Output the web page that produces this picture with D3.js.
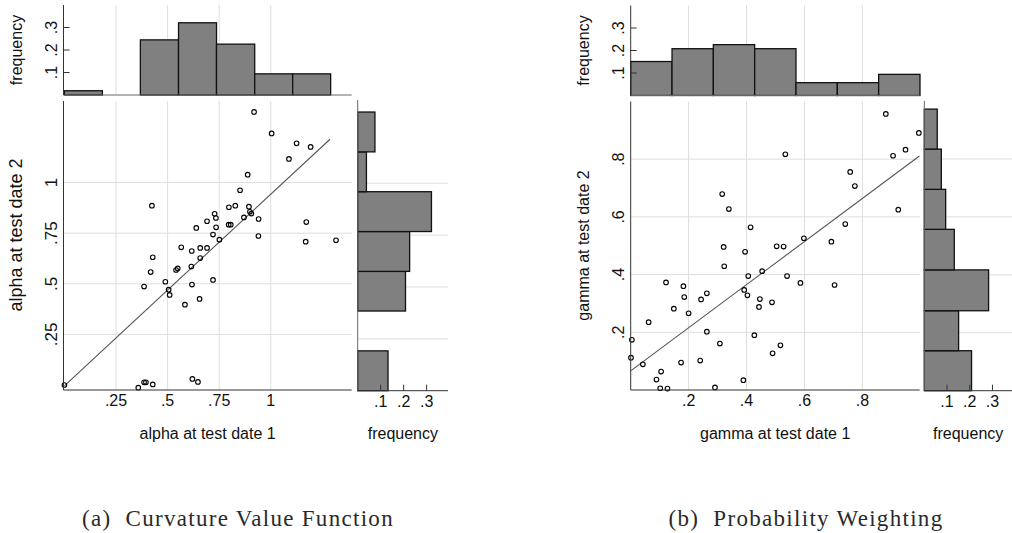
<!DOCTYPE html>
<html><head><meta charset="utf-8">
<script src="https://cdn.jsdelivr.net/npm/d3@7"></script>
<style>
body{margin:0;background:#fff}
svg{display:block}
text{font-family:"Liberation Sans",Arial,sans-serif;fill:#111}
</style>
</head><body><svg id="c" width="1012" height="533"></svg>
<script>
// ---------- data ----------
const alphaDate1 = [0,0.358,0.386,0.395,0.428,0.620,0.647,0.919,1.004,1.125,1.193,1.088,0.888,0.851,0.424,0.797,0.828,0.894,0.899,0.906,0.728,0.734,0.691,0.870,0.941,0.796,0.806,0.735,0.639,0.720,0.940,0.751,1.172,1.169,1.316,0.566,0.658,0.691,0.617,0.428,0.658,0.615,0.418,0.541,0.549,0.489,0.720,0.386,0.618,0.505,0.510,0.655,0.584];
const alphaDate2 = [0,-0.013,0.013,0.013,0.003,0.030,0.015,1.349,1.243,1.194,1.176,1.117,1.039,0.962,0.886,0.878,0.886,0.881,0.856,0.847,0.846,0.825,0.809,0.828,0.820,0.792,0.792,0.779,0.776,0.743,0.736,0.718,0.805,0.708,0.715,0.680,0.677,0.677,0.662,0.631,0.627,0.585,0.558,0.568,0.576,0.510,0.519,0.486,0.496,0.471,0.445,0.425,0.397];
const gammaDate1 = [0.881,0.995,0.949,0.906,0.534,0.758,0.774,0.924,0.316,0.339,0.414,0.741,0.598,0.693,0.504,0.528,0.321,0.395,0.323,0.454,0.406,0.540,0.586,0.704,0.122,0.182,0.185,0.263,0.243,0.392,0.403,0.446,0.443,0.488,0.149,0.200,0.062,0.263,0.427,0.004,0.308,0.517,0.490,0.001,0.240,0.174,0.042,0.105,0.089,0.389,0.102,0.127,0.291];
const gammaDate2 = [0.957,0.891,0.833,0.812,0.817,0.756,0.707,0.625,0.679,0.627,0.564,0.575,0.526,0.514,0.498,0.497,0.496,0.479,0.429,0.412,0.395,0.395,0.371,0.364,0.373,0.360,0.322,0.335,0.314,0.347,0.328,0.315,0.288,0.304,0.282,0.266,0.235,0.202,0.190,0.174,0.161,0.155,0.127,0.112,0.102,0.095,0.089,0.064,0.036,0.034,0.006,0.005,0.009];

// fitted lines (endpoints)
const alphaFitX = [0, 1.287];
const alphaFitY = [-0.004, 1.214];
const gammaFitX = [0.001, 0.997];
const gammaFitY = [0.067, 0.811];

// histograms: bin edges and frequencies
const alphaXBins = [0,0.184,0.368,0.553,0.737,0.922,1.106,1.290];
const alphaXFreq = [0.019,0,0.245,0.321,0.226,0.094,0.094];
const alphaYBins = [0,0.192,0.384,0.575,0.767,0.959,1.151,1.343];
const alphaYFreq = [0.132,0,0.208,0.226,0.321,0.038,0.075];
const gammaXBins = [0,0.1427,0.2854,0.4281,0.5708,0.7135,0.8562,0.999];
const gammaXFreq = [0.151,0.208,0.226,0.208,0.057,0.057,0.094];
const gammaYBins = [0,0.138,0.276,0.417,0.557,0.695,0.834,0.972];
const gammaYFreq = [0.208,0.151,0.283,0.132,0.094,0.075,0.057];

// ticks / labels
const alphaTicks = [0.25,0.5,0.75,1];
const gammaTicks = [0.2,0.4,0.6,0.8];
const freqTicks = [0.1,0.2,0.3];
const titles = {
  a: ["alpha at test date 1","alpha at test date 2"],
  b: ["gamma at test date 1","gamma at test date 2"]
};
const freqLabel = "frequency";
const captions = ["(a)  Curvature Value Function","(b)  Probability Weighting"];

// ---------- drawing ----------
const svg = d3.select("#c");
const fmt = d => (+d.toFixed(3)).toString().replace(/^0\./,".");
const GRID = "#dedede", AX = "#333";

function panel(cfg){
  const g = svg.append("g");
  const {x, y, hyFreq, vyFreq, vy, xs, ys} = cfg;

  // top histogram
  const top = g.append("g");
  cfg.ticks.forEach(t=>{
    top.append("line").attr("x1",x(t)).attr("x2",x(t)).attr("y1",hyFreq.range()[1]).attr("y2",hyFreq.range()[0]).attr("stroke",GRID);
  });
  top.selectAll("rect").data(cfg.xFreq).join("rect")
    .attr("x",(d,i)=>x(cfg.xBins[i])).attr("width",(d,i)=>x(cfg.xBins[i+1])-x(cfg.xBins[i]))
    .attr("y",d=>hyFreq(d)).attr("height",d=>hyFreq(0)-hyFreq(d))
    .attr("fill","#808080").attr("stroke","#111").attr("stroke-width",1.3)
    .attr("display",d=>d>0?null:"none");
  top.append("line").attr("x1",x.range()[0]).attr("x2",x.range()[1]).attr("y1",hyFreq(0)).attr("y2",hyFreq(0)).attr("stroke","#666");
  top.append("line").attr("x1",x.range()[0]).attr("x2",x.range()[0]).attr("y1",hyFreq.range()[1]).attr("y2",hyFreq(0)).attr("stroke",AX);
  freqTicks.forEach(t=>{
    top.append("line").attr("x1",x.range()[0]).attr("x2",x.range()[0]+6).attr("y1",hyFreq(t)).attr("y2",hyFreq(t)).attr("stroke",AX);
    top.append("text").attr("transform",`translate(${x.range()[0]-7},${hyFreq(t)}) rotate(-90)`)
      .attr("text-anchor","middle").attr("font-size",16).text(fmt(t));
  });
  top.append("text").attr("transform",`translate(${x.range()[0]-42},${(hyFreq.range()[0]+hyFreq.range()[1])/2}) rotate(-90)`)
    .attr("text-anchor","middle").attr("font-size",16).text(freqLabel);

  // scatter
  const sc = g.append("g");
  cfg.ticks.forEach(t=>{
    sc.append("line").attr("x1",x(t)).attr("x2",x(t)).attr("y1",y.range()[1]).attr("y2",y.range()[0]).attr("stroke",GRID);
    sc.append("line").attr("x1",x.range()[0]).attr("x2",x.range()[1]).attr("y1",y(t)).attr("y2",y(t)).attr("stroke",GRID);
  });
  sc.append("line").attr("x1",x(cfg.fitX[0])).attr("y1",y(cfg.fitY[0])).attr("x2",x(cfg.fitX[1])).attr("y2",y(cfg.fitY[1]))
    .attr("stroke","#555").attr("stroke-width",1.1);
  sc.selectAll("circle").data(xs.map((v,i)=>[v,ys[i]])).join("circle")
    .attr("cx",d=>x(d[0])).attr("cy",d=>y(d[1])).attr("r",2.3)
    .attr("fill","none").attr("stroke","#000").attr("stroke-width",1.1);
  sc.append("line").attr("x1",x.range()[0]).attr("x2",x.range()[1]).attr("y1",y.range()[0]).attr("y2",y.range()[0]).attr("stroke",AX);
  sc.append("line").attr("x1",x.range()[0]).attr("x2",x.range()[0]).attr("y1",y.range()[1]).attr("y2",y.range()[0]).attr("stroke",AX);
  cfg.ticks.forEach(t=>{
    sc.append("text").attr("x",x(t)).attr("y",y.range()[0]+16).attr("text-anchor","middle").attr("font-size",16).text(fmt(t));
    sc.append("text").attr("transform",`translate(${x.range()[0]-7},${y(t)}) rotate(-90)`)
      .attr("text-anchor","middle").attr("font-size",cfg.yLabelSize).text(fmt(t));
  });
  sc.append("text").attr("x",(x.range()[0]+x.range()[1])/2).attr("y",439).attr("text-anchor","middle").attr("font-size",16).text(cfg.titles[0]);
  sc.append("text").attr("transform",`translate(${x.range()[0]-42},${cfg.yTitleY}) rotate(-90)`)
    .attr("text-anchor","middle").attr("font-size",cfg.yTitleSize).text(cfg.titles[1]);

  // right histogram
  const rh = g.append("g");
  cfg.ticks.forEach(t=>{
    rh.append("line").attr("x1",vyFreq.range()[0]).attr("x2",vyFreq.range()[1]).attr("y1",vy(t)).attr("y2",vy(t)).attr("stroke",GRID);
  });
  rh.selectAll("rect").data(cfg.yFreq).join("rect")
    .attr("x",vyFreq(0)).attr("width",d=>vyFreq(d)-vyFreq(0))
    .attr("y",(d,i)=>vy(cfg.yBins[i+1])).attr("height",(d,i)=>vy(cfg.yBins[i])-vy(cfg.yBins[i+1]))
    .attr("fill","#808080").attr("stroke","#111").attr("stroke-width",1.3)
    .attr("display",d=>d>0?null:"none");
  rh.append("line").attr("x1",vyFreq.range()[0]).attr("x2",vyFreq.range()[0]).attr("y1",vy.range()[1]).attr("y2",vy.range()[0]).attr("stroke","#666");
  rh.append("line").attr("x1",vyFreq.range()[0]).attr("x2",vyFreq.range()[1]).attr("y1",vy.range()[0]).attr("y2",vy.range()[0]).attr("stroke",AX);
  freqTicks.forEach(t=>{
    rh.append("line").attr("x1",vyFreq(t)).attr("x2",vyFreq(t)).attr("y1",vy.range()[0]).attr("y2",vy.range()[0]-6).attr("stroke",AX);
    rh.append("text").attr("x",vyFreq(t)).attr("y",vy.range()[0]+16).attr("text-anchor","middle").attr("font-size",16).text(fmt(t));
  });
  rh.append("text").attr("x",(vyFreq.range()[0]+vyFreq.range()[1])/2).attr("y",439).attr("text-anchor","middle").attr("font-size",16).text(freqLabel);

  // caption
  g.append("text").attr("x",cfg.capX).attr("y",526).attr("text-anchor","middle")
    .style("font-family",'"Liberation Serif","Times New Roman",serif').attr("font-size",23)
    .attr("letter-spacing",1.3).style("fill","#2a2a2a").attr("xml:space","preserve").text(cfg.caption);
}

panel({
  x: d3.scaleLinear().domain([-0.0044,1.392]).range([63.5,351.7]),
  y: d3.scaleLinear().domain([-0.0247,1.403]).range([390,101]),
  hyFreq: d3.scaleLinear().domain([0,0.4]).range([95,5]),
  vy: d3.scaleLinear().domain([0,1.401]).range([390.7,100]),
  vyFreq: d3.scaleLinear().domain([0,0.393]).range([357.7,448]),
  xs: alphaDate1, ys: alphaDate2, fitX: alphaFitX, fitY: alphaFitY,
  xBins: alphaXBins, xFreq: alphaXFreq, yBins: alphaYBins, yFreq: alphaYFreq,
  ticks: alphaTicks, titles: titles.a, caption: captions[0], capX: 238,
  yLabelSize: 17, yTitleSize: 18, yTitleY: 235
});
panel({
  x: d3.scaleLinear().domain([0,0.998]).range([630.7,919.7]),
  y: d3.scaleLinear().domain([0,1.0]).range([390,101.5]),
  hyFreq: d3.scaleLinear().domain([0,0.4]).range([95.5,5.5]),
  vy: d3.scaleLinear().domain([0,1.0]).range([390.7,101]),
  vyFreq: d3.scaleLinear().domain([0,0.386]).range([924.3,1012]),
  xs: gammaDate1, ys: gammaDate2, fitX: gammaFitX, fitY: gammaFitY,
  xBins: gammaXBins, xFreq: gammaXFreq, yBins: gammaYBins, yFreq: gammaYFreq,
  ticks: gammaTicks, titles: titles.b, caption: captions[1], capX: 806,
  yLabelSize: 16, yTitleSize: 16, yTitleY: 245.5
});
</script>
</body></html>
